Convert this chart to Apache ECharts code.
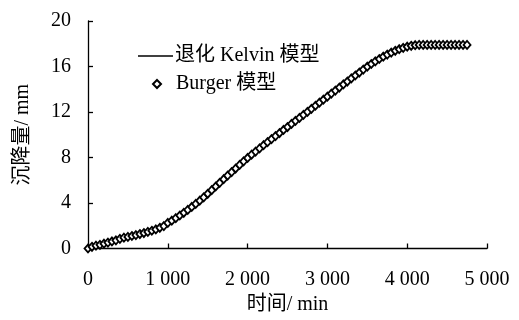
<!DOCTYPE html>
<html>
<head>
<meta charset="utf-8">
<script src="https://cdn.jsdelivr.net/npm/echarts@6/dist/echarts.min.js"></script>
<style>html,body{margin:0;padding:0;background:#fff}#c{width:519px;height:320px}</style>
</head>
<body>
<div id="c"></div>
<script>
// time (min), 50-min steps
const times = [0,50,100,150,200,250,300,350,400,450,500,550,600,650,700,750,800,850,900,950,
1000,1050,1100,1150,1200,1250,1300,1350,1400,1450,1500,1550,1600,1650,1700,1750,1800,1850,1900,1950,
2000,2050,2100,2150,2200,2250,2300,2350,2400,2450,2500,2550,2600,2650,2700,2750,2800,2850,2900,2950,
3000,3050,3100,3150,3200,3250,3300,3350,3400,3450,3500,3550,3600,3650,3700,3750,3800,3850,3900,3950,
4000,4050,4100,4150,4200,4250,4300,4350,4400,4450,4500,4550,4600,4650,4700,4750];
// Burger model settlement (mm)
const burger = [0.00,0.15,0.25,0.32,0.42,0.52,0.62,0.72,0.85,0.95,1.02,1.10,1.18,1.27,1.36,1.46,1.56,1.68,1.82,1.97,
2.25,2.45,2.67,2.90,3.14,3.39,3.65,3.92,4.20,4.50,4.81,5.13,5.45,5.77,6.09,6.41,6.72,7.03,7.35,7.66,
7.96,8.25,8.52,8.80,9.08,9.35,9.62,9.88,10.15,10.42,10.68,10.95,11.22,11.48,11.75,12.01,12.28,12.55,12.82,13.08,
13.35,13.62,13.88,14.15,14.42,14.68,14.95,15.21,15.47,15.73,15.98,16.22,16.45,16.66,16.86,17.05,17.22,17.38,17.52,17.64,
17.74,17.82,17.87,17.90,17.90,17.90,17.90,17.90,17.90,17.90,17.90,17.90,17.90,17.90,17.90,17.90];
// degraded Kelvin model settlement (mm)
const kelvin = [0.00,0.15,0.25,0.32,0.42,0.52,0.62,0.72,0.85,0.95,1.02,1.10,1.18,1.27,1.36,1.46,1.56,1.68,1.82,1.97,
2.25,2.45,2.67,2.90,3.14,3.39,3.65,3.92,4.20,4.50,4.81,5.13,5.45,5.77,6.09,6.41,6.72,7.03,7.35,7.66,
7.96,8.25,8.52,8.80,9.08,9.35,9.62,9.88,10.15,10.42,10.68,10.95,11.22,11.48,11.75,12.01,12.28,12.55,12.82,13.08,
13.35,13.62,13.88,14.15,14.42,14.68,14.95,15.21,15.47,15.73,15.98,16.22,16.45,16.66,16.86,17.05,17.22,17.38,17.52,17.64,
17.74,17.82,17.87,17.90,17.90,17.90,17.90,17.90,17.90,17.90,17.90,17.90,17.90,17.90,17.90,17.90];
const seriesNames = ['退化 Kelvin 模型', 'Burger 模型'];
const xName = '时间/ min';
const yName = '沉降量/ mm';

const FONT = '"Liberation Serif", "Times New Roman", "Noto Sans CJK SC", serif';
const pairs = arr => times.map((t, i) => [t, arr[i]]);
const legendText = {fontFamily: FONT, fontSize: 20, color: '#000'};

const chart = echarts.init(document.getElementById('c'), null, {renderer: 'canvas'});
chart.setOption({
  animation: false,
  backgroundColor: '#fff',
  grid: {left: 88, right: 32, top: 21, bottom: 71.5},
  legend: [
    {
      orient: 'vertical', left: 138, top: 46, padding: 0,
      itemWidth: 35, itemHeight: 1.6, selectedMode: false,
      textStyle: Object.assign({padding: [0, 0, 0, -3]}, legendText),
      data: [{name: seriesNames[0], icon: 'rect', itemStyle: {color: '#000'}}]
    },
    {
      orient: 'vertical', left: 152, top: 74, padding: 0,
      itemWidth: 8, itemHeight: 8, selectedMode: false,
      textStyle: Object.assign({padding: [0, 0, 0, 10]}, legendText),
      data: [seriesNames[1]]
    }
  ],
  xAxis: {
    type: 'value', min: 0, max: 5000, interval: 1000,
    name: xName, nameLocation: 'middle', nameGap: 43,
    nameTextStyle: {fontFamily: FONT, fontSize: 20, color: '#000'},
    axisLine: {show: true, lineStyle: {color: '#000', width: 1.3}},
    axisTick: {show: true, inside: true, length: 5, lineStyle: {color: '#000', width: 1.3}},
    axisLabel: {margin: 21, fontFamily: FONT, fontSize: 20, color: '#000',
      formatter: v => v === 0 ? '0' : String(v).replace(/\B(?=(\d{3})+(?!\d))/g, ' ')},
    splitLine: {show: false}
  },
  yAxis: {
    type: 'value', min: 0, max: 20, interval: 4,
    name: yName, nameLocation: 'middle', nameGap: 55, nameRotate: 90,
    nameTextStyle: {fontFamily: FONT, fontSize: 20, color: '#000'},
    axisLine: {show: true, lineStyle: {color: '#000', width: 1.3}},
    axisTick: {show: true, inside: true, length: 5, lineStyle: {color: '#000', width: 1.3}},
    axisLabel: {margin: 17, fontFamily: FONT, fontSize: 20, color: '#000'},
    splitLine: {show: false}
  },
  series: [
    {
      name: seriesNames[0], type: 'line', data: pairs(kelvin),
      symbol: 'none', lineStyle: {color: '#000', width: 1.5}, itemStyle: {color: '#000'}, z: 2
    },
    {
      name: seriesNames[1], type: 'scatter', data: pairs(burger),
      symbol: 'diamond', symbolSize: [7, 8],
      itemStyle: {color: '#fff', borderColor: '#000', borderWidth: 1.8, opacity: 1}, z: 3
    }
  ]
});
</script>
</body>
</html>
